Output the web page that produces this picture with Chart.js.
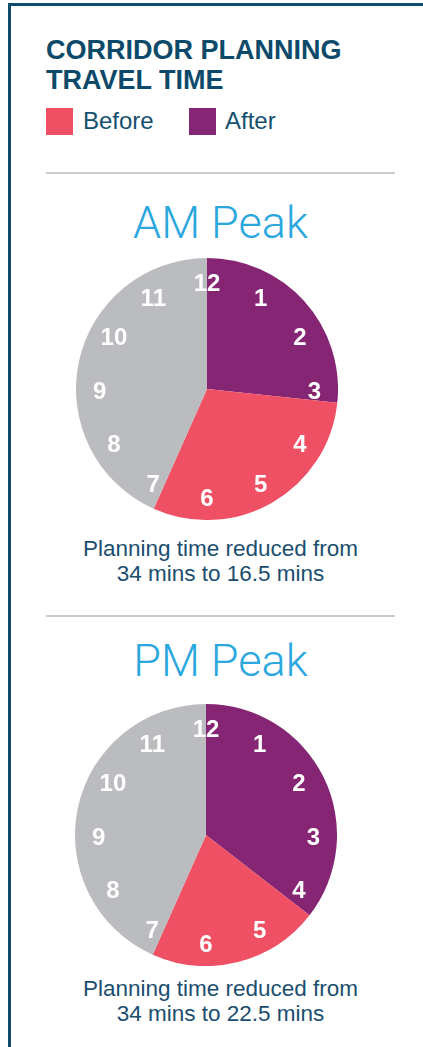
<!DOCTYPE html>
<html>
<head>
<meta charset="utf-8">
<script src="https://cdn.jsdelivr.net/npm/chart.js@4"></script>
<style>
  body { margin: 0; background: #fff; width: 423px; height: 1047px; overflow: hidden; position: relative; font-family: "Liberation Sans", Arial, sans-serif; }
  .frame { position: absolute; left: 8px; top: 3px; width: 500px; height: 1100px; border-left: 3px solid #0f4a68; border-top: 3px solid #0f4a68; }
  .title { position: absolute; left: 46px; top: 35px; font-weight: bold; font-size: 27px; line-height: 30px; color: #0d4a6a; }
  .legend { position: absolute; top: 107px; font-size: 24px; color: #16506f; }
  .sw { position: absolute; top: 108px; width: 27px; height: 27px; }
  .rule { position: absolute; left: 46px; width: 349px; height: 2px; background: #cbcbcb; }
  .peak { position: absolute; left: 46px; width: 349px; text-align: center; font-family: Roboto, "Open Sans", sans-serif; font-weight: 300; font-size: 45px; color: #2aa7de; }
  .caption { position: absolute; left: 46px; width: 349px; text-align: center; font-size: 22.5px; line-height: 25px; color: #1b4e6e; }
  canvas { position: absolute; }
</style>
</head>
<body>
<div class="frame"></div>
<div class="title">CORRIDOR PLANNING<br>TRAVEL TIME</div>
<div class="sw" style="left:46px;background:#ef5064"></div>
<div class="legend" style="left:83px">Before</div>
<div class="sw" style="left:189px;background:#852573"></div>
<div class="legend" style="left:225px">After</div>
<div class="rule" style="top:172px"></div>

<div class="peak" style="top:196px">AM Peak</div>
<div style="position:absolute;left:76px;top:258px;width:262px;height:262px"><canvas id="amChart"></canvas></div>
<div class="caption" style="top:536px">Planning time reduced from<br>34 mins to 16.5 mins</div>
<div class="rule" style="top:615px"></div>

<div class="peak" style="top:634px">PM Peak</div>
<div style="position:absolute;left:75px;top:704px;width:262px;height:262px"><canvas id="pmChart"></canvas></div>
<div class="caption" style="top:976px">Planning time reduced from<br>34 mins to 22.5 mins</div>

<script>
const sliceLabels = ["After", "Before", "Rest of hour"];
const sliceColors = ["#852573", "#ef5064", "#bbbcbf"];
// minutes past the hour as drawn: after, extra time before, remainder of 60
const amMinutes = [16, 18, 26];
const pmMinutes = [21.3, 12.7, 26];
const clockNumbers = ["12", "1", "2", "3", "4", "5", "6", "7", "8", "9", "10", "11"];

// draws the clock face numbers on top of the pie
const clockFace = {
  id: "clockFace",
  afterDatasetsDraw(chart) {
    const arc = chart.getDatasetMeta(0).data[0];
    if (!arc) return;
    const ctx = chart.ctx;
    const r = arc.outerRadius * 0.82;
    ctx.save();
    ctx.fillStyle = "#ffffff";
    ctx.font = "bold 24px 'Liberation Sans', Arial, sans-serif";
    ctx.textAlign = "center";
    ctx.textBaseline = "middle";
    clockNumbers.forEach(function (num, i) {
      const a = (i * 30 - 90) * Math.PI / 180;
      ctx.fillText(num, arc.x + Math.cos(a) * r, arc.y + Math.sin(a) * r + 3);
    });
    ctx.restore();
  }
};

function makeClock(id, values) {
  new Chart(document.getElementById(id), {
    type: "pie",
    data: {
      labels: sliceLabels,
      datasets: [{
        data: values,
        backgroundColor: sliceColors,
        borderWidth: 0,
        hoverOffset: 0
      }]
    },
    options: {
      responsive: true,
      maintainAspectRatio: false,
      animation: false,
      layout: { padding: 0 },
      plugins: {
        legend: { display: false },
        tooltip: { enabled: false }
      }
    },
    plugins: [clockFace]
  });
}

makeClock("amChart", amMinutes);
makeClock("pmChart", pmMinutes);
</script>
</body>
</html>
